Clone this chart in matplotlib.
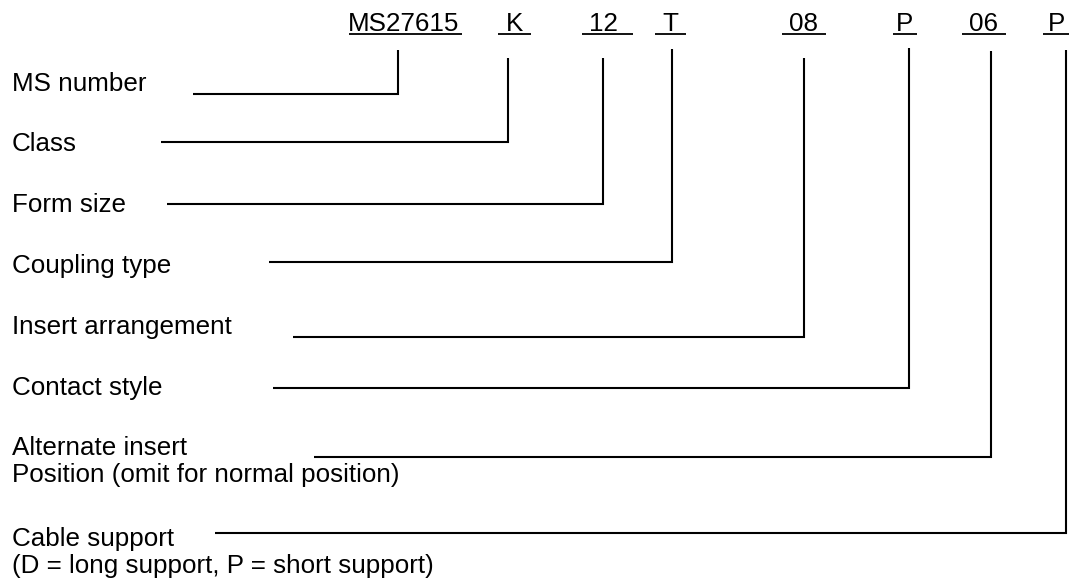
import matplotlib
matplotlib.use('Agg')
import matplotlib.pyplot as plt

plt.rcParams['font.family'] = ['Liberation Sans', 'DejaVu Sans']

#-------data-------
codes = ['MS27615', 'K', '12', 'T', '08', 'P', '06', 'P']
labels = [['MS number'],
          ['Class'],
          ['Form size'],
          ['Coupling type'],
          ['Insert arrangement'],
          ['Contact style'],
          ['Alternate insert', 'Position (omit for normal position)'],
          ['Cable support', '(D = long support, P = short support)']]

#-------layout (pixels)-------
code_cx = [404, 515, 603, 670, 803, 905, 984, 1057]
ul_x0 = [349, 498, 582, 655, 782, 893, 962, 1043]
ul_x1 = [462, 531, 633, 686, 826, 917, 1006, 1069]
vx = [398, 508, 603, 672, 804, 909, 991, 1066]
vtop = [50, 58, 58, 49, 58, 48, 51, 50]
hy = [94, 142, 204, 262, 337, 388, 457, 533]
hx0 = [193, 161, 167, 269, 293, 273, 314, 215]
base = [91, 151, 212, 273, 334, 395, 455, 546]

fig = plt.figure(figsize=(10.72, 5.84), dpi=100)
ax = fig.add_axes([0, 0, 1, 1])
ax.set_xlim(0, 1072)
ax.set_ylim(584, 0)
ax.axis('off')

fs = 18.7
lw = 1.5
for i in range(len(codes)):
    ax.text(code_cx[i], 31, codes[i], ha='center', va='baseline', fontsize=fs)
    ax.plot([ul_x0[i], ul_x1[i]], [34, 34], color='black', lw=1.3,
            solid_capstyle='butt')
    # leader line
    ax.plot([hx0[i], vx[i], vx[i]], [hy[i], hy[i], vtop[i]], color='black',
            lw=lw, solid_capstyle='butt', solid_joinstyle='miter')
    for k, s in enumerate(labels[i]):
        ax.text(12, base[i] + 27 * k, s, ha='left', va='baseline', fontsize=fs)

fig.savefig('out.png', dpi=100, facecolor='white')
